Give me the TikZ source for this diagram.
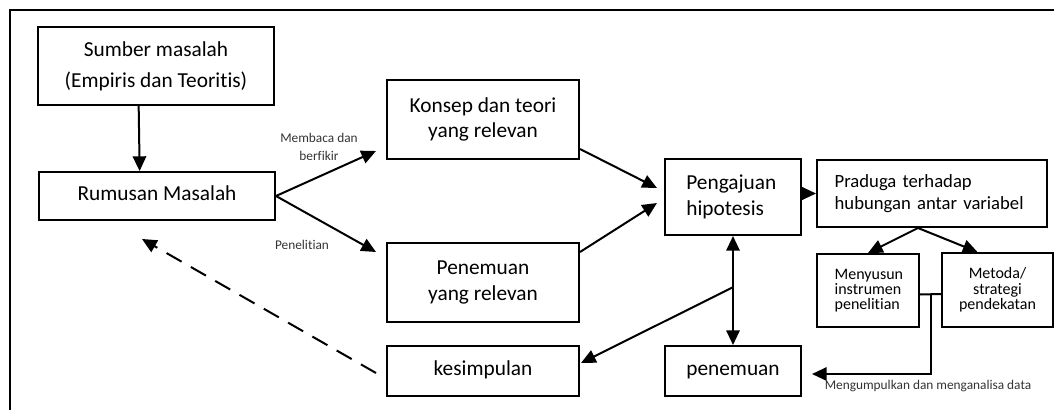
\documentclass[tikz,border=0pt]{standalone}
\usepackage{fontspec}
\setmainfont{Carlito}[Ligatures=NoCommon]
\usetikzlibrary{arrows.meta}

\begin{document}
\begin{tikzpicture}[x=0.75pt,y=0.75pt,yscale=-1,xscale=1,
  box/.style={draw,line width=1.5pt,rectangle,inner sep=0pt,align=center,font=\fontsize{16}{19}\selectfont},
  single/.style={text height=11pt,text depth=4pt},
  arr/.style={line width=1.5pt,-{Triangle[length=11pt,width=10pt]}},
  twoway/.style={line width=1.5pt,{Triangle[length=11pt,width=10pt]}-{Triangle[length=11pt,width=10pt]}},
  back/.style={arr,dash pattern=on 13pt off 8pt},
  lbl/.style={font=\fontsize{10}{14}\selectfont,text=black!80,align=center}]
\useasboundingbox (0,0) rectangle (1054,410);
%Straight Lines: frame
\draw [line width=1.5pt] (10,410) -- (10,10) -- (1054,10) ;
%Shape: Rectangle
\node [box,minimum width=177pt,minimum height=58.5pt,font=\fontsize{16}{23}\selectfont] (sumber) at (156,66) {Sumber masalah\\(Empiris dan Teoritis)};
%Shape: Rectangle
\node [box,single,minimum width=177pt,minimum height=36pt] (rumusan) at (157,196) {Rumusan Masalah};
%Shape: Rectangle
\node [box,minimum width=144pt,minimum height=59.25pt] (konsep) at (483,119.5) {Konsep dan teori\\yang relevan};
%Shape: Rectangle
\node [box,minimum width=144pt,minimum height=59.25pt] (relevan) at (483,282.5) {Penemuan\\yang relevan};
%Shape: Rectangle
\node [box,single,minimum width=144pt,minimum height=37.5pt] (kesimpulan) at (483,371) {kesimpulan};
%Shape: Rectangle
\node [box,minimum width=102pt,minimum height=57pt,text width=70pt,align=left,font=\fontsize{16}{20}\selectfont] (hipotesis) at (733,197) {Pengajuan\\hipotesis};
%Shape: Rectangle
\node [box,single,minimum width=102pt,minimum height=37.5pt] (penemuan) at (733,371) {penemuan};
%Shape: Rectangle
\node [box,minimum width=172.5pt,minimum height=50.25pt,text width=146pt,align=left,font=\fontsize{14}{16.5}\selectfont] (praduga) at (932,193.5) {Praduga terhadap\\hubungan antar variabel};
%Shape: Rectangle
\node [box,minimum width=76.5pt,minimum height=54.75pt,text width=50pt,align=left,font=\fontsize{12}{11.5}\selectfont] (menyusun) at (868,290.5) {Menyusun\\instrumen\\penelitian};
%Shape: Rectangle
\node [box,minimum width=83.25pt,minimum height=55.5pt,font=\fontsize{12}{11.5}\selectfont] (metoda) at (997.5,290) {Metoda/\\strategi\\pendekatan};
%Text labels
\node [lbl] (baca) at (319,147) {Membaca dan\\berfikir};
\node [lbl] (teliti) at (302,245) {Penelitian};
\node [lbl] (kumpul) at (928,386) {Mengumpulkan dan menganalisa data};
%Straight Lines
\draw [arr] ([xshift=-13pt]sumber.south) -- ([xshift=-13pt]rumusan.north) ;
\draw [arr] (rumusan.east) -- ([shift={(-10,-9)}]konsep.south west) ;
\draw [arr] (rumusan.east) -- ([shift={(-10,10)}]relevan.north west) ;
\draw [arr] ([shift={(0,-11)}]konsep.south east) -- ([shift={(-7,-9)}]hipotesis.west) ;
\draw [arr] ([shift={(0,10)}]relevan.north east) -- ([shift={(-7,6)}]hipotesis.west) ;
\draw [twoway] (hipotesis.south) -- (penemuan.north) coordinate[pos=0.47] (cabang) ;
\draw [arr] (cabang) -- ([shift={(1,-8)}]kesimpulan.east) ;
\draw [back] ([shift={(-10,2)}]kesimpulan.west) -- ([shift={(-15,18)}]rumusan.south) ;
\draw [arr] (hipotesis.east |- praduga.west) -- (praduga.west) ;
\draw [arr] ([xshift=-10.5pt]praduga.south) -- (menyusun.north) ;
\draw [arr] ([xshift=-10.5pt]praduga.south) -- ([xshift=-15pt]metoda.north) ;
\draw [line width=1.5pt] ([yshift=3pt]menyusun.east) -- ([yshift=3pt]metoda.west) coordinate[pos=0.5] (tengah) ;
\draw [arr] (tengah) |- ([shift={(10,3)}]penemuan.east) ;
\end{tikzpicture}
\end{document}
